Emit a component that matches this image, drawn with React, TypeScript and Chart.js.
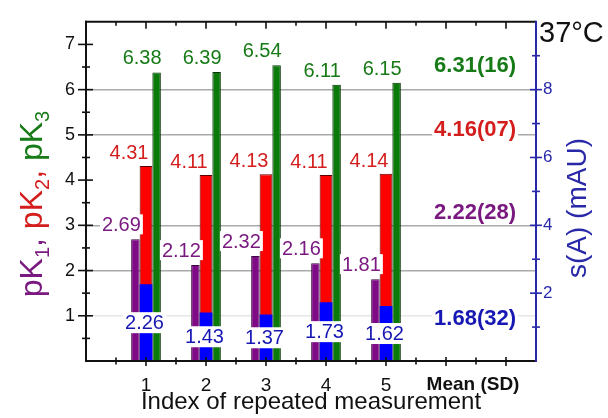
import React, { useEffect, useRef } from "react";
import { Chart, registerables } from "chart.js";

Chart.register(...registerables);

// Repeated measurements at 37 °C
const categories = [1, 2, 3, 4, 5];
const pK1 = [2.69, 2.12, 2.32, 2.16, 1.81];
const pK2 = [4.31, 4.11, 4.13, 4.11, 4.14];
const pK3 = [6.38, 6.39, 6.54, 6.11, 6.15];
const sA = [2.26, 1.43, 1.37, 1.73, 1.62];

// Mean and standard deviation, in the order pK1, pK2, pK3, s(A)
const meanValues = [2.22, 4.16, 6.31, 1.68];
const sdValues = [0.28, 0.07, 0.16, 0.32];

const leftTickLabels = [1, 2, 3, 4, 5, 6, 7];
const rightTickLabels = [2, 4, 6, 8];
const xTickLabels = [1, 2, 3, 4, 5];

const FONT = "'Liberation Sans', Arial, Helvetica, sans-serif";
const PURPLE = "#7f0a86";
const RED = "#ff0000";
const BLUE = "#0000ff";
const GREEN = "#0b7a0b";
const PURPLE_TXT = "#7a1a80";
const RED_TXT = "#d41e1e";
const GREEN_TXT = "#167a16";
const BLUE_TXT = "#1717b4";
const AXIS_BLUE = "#2828a8";

const fmtSd = (sd: number) => String(Math.round(sd * 100)).padStart(2, "0");

const decorations = {
  id: "decorations",
  afterDatasetsDraw(chart: any) {
    const { ctx, chartArea: a, scales } = chart;
    const xs = scales.x;
    const ys = scales.y;
    const y2s = scales.y2;
    ctx.save();

    // white-boxed text helper
    const boxed = (text: string, cx: number, cy: number, color: string, font: string, h: number, align = "center") => {
      ctx.font = font;
      const w = ctx.measureText(text).width + 4;
      const left = align === "right" ? cx - w + 2 : cx - w / 2;
      ctx.fillStyle = "#ffffff";
      ctx.fillRect(left, cy - h / 2, w, h);
      ctx.fillStyle = color;
      ctx.textAlign = align;
      ctx.textBaseline = "middle";
      ctx.fillText(text, cx, cy + 1);
    };

    // value labels above pK bars
    const valueFont = `20px ${FONT}`;
    const specs = [
      { ds: 0, vals: pK1, color: PURPLE_TXT, dx: -14, dy: -15 },
      { ds: 2, vals: pK2, color: RED_TXT, dx: -17, dy: -13.5 },
      { ds: 3, vals: pK3, color: GREEN_TXT, dx: -14.5, dy: -14.5 },
    ];
    specs.forEach((s) => {
      const meta = chart.getDatasetMeta(s.ds);
      meta.data.forEach((bar: any, i: number) => {
        boxed(s.vals[i].toFixed(2), bar.x + s.dx, bar.y + s.dy, s.color, valueFont, 20);
      });
    });
    // s(A) labels in the middle of the blue bars
    chart.getDatasetMeta(1).data.forEach((bar: any, i: number) => {
      boxed(sA[i].toFixed(2), bar.x - 1.5, (bar.y + bar.base) / 2, BLUE_TXT, valueFont, 21);
    });

    // mean (SD) column
    const meanFont = `bold 22px ${FONT}`;
    const meanColors = [PURPLE_TXT, RED_TXT, GREEN_TXT, BLUE_TXT];
    const meanLevels = [3.3, 5.13, 6.54, 0.96];
    const meanRight = xs.getPixelForValue(7) + 10;
    meanValues.forEach((m, i) => {
      boxed(`${m.toFixed(2)}(${fmtSd(sdValues[i])})`, meanRight, ys.getPixelForValue(meanLevels[i]), meanColors[i], meanFont, 22, "right");
    });

    // frame and tick marks
    const line = (x1: number, y1: number, x2: number, y2: number) => {
      ctx.beginPath();
      ctx.moveTo(x1, y1);
      ctx.lineTo(x2, y2);
      ctx.stroke();
    };
    ctx.lineCap = "butt";
    ctx.strokeStyle = "#111";
    ctx.lineWidth = 1.6;
    for (let v = 0.5; v < 7.5; v += 0.5) {
      const px = xs.getPixelForValue(v);
      const major = Number.isInteger(v);
      line(px, a.bottom - (major ? 4 : 3.5), px, a.bottom + (major ? 5 : 3.5));
      line(px, a.top, px, a.top + (major ? 7 : 4));
    }
    for (let v = 0.5; v <= 7; v += 0.5) {
      const py = ys.getPixelForValue(v);
      const major = Number.isInteger(v);
      line(a.left - (major ? 8 : 4), py, a.left + (major ? 7 : 4), py);
    }
    ctx.lineWidth = 2;
    line(a.left, a.top - 1, a.left, a.bottom + 1);
    line(a.left - 1, a.top, a.right, a.top);
    line(a.left - 1, a.bottom, a.right, a.bottom);

    ctx.strokeStyle = AXIS_BLUE;
    ctx.lineWidth = 1.6;
    for (let v = 1; v <= 9; v += 1) {
      const py = y2s.getPixelForValue(v);
      const major = v % 2 === 0;
      line(a.right - (major ? 6 : 4), py, a.right + (major ? 6 : 4), py);
    }
    ctx.lineWidth = 2;
    line(a.right, a.top - 1, a.right, a.bottom + 1);

    // axis titles and annotations
    ctx.textAlign = "left";
    ctx.textBaseline = "alphabetic";

    // left title: pK1, pK2, pK3 with subscripts
    const big = `32px ${FONT}`;
    const small = `20px ${FONT}`;
    const parts = [
      { t: "pK", f: big, c: PURPLE_TXT, sub: false },
      { t: "1", f: small, c: PURPLE_TXT, sub: true },
      { t: ", ", f: big, c: PURPLE_TXT, sub: false },
      { t: "pK", f: big, c: RED_TXT, sub: false },
      { t: "2", f: small, c: RED_TXT, sub: true },
      { t: ", ", f: big, c: RED_TXT, sub: false },
      { t: "pK", f: big, c: GREEN_TXT, sub: false },
      { t: "3", f: small, c: GREEN_TXT, sub: true },
    ];
    let total = 0;
    parts.forEach((p) => {
      ctx.font = p.f;
      total += ctx.measureText(p.t).width;
    });
    ctx.save();
    ctx.translate(42, 204);
    ctx.rotate(-Math.PI / 2);
    let cx = -total / 2;
    parts.forEach((p) => {
      ctx.font = p.f;
      ctx.fillStyle = p.c;
      ctx.fillText(p.t, cx, p.sub ? 7 : 0);
      cx += ctx.measureText(p.t).width;
    });
    ctx.restore();

    // right title
    ctx.save();
    ctx.translate(586, 208);
    ctx.rotate(-Math.PI / 2);
    ctx.font = `28px ${FONT}`;
    ctx.fillStyle = AXIS_BLUE;
    ctx.textAlign = "center";
    ctx.fillText("s(A) (mAU)", 0, 0);
    ctx.restore();

    // x title
    ctx.font = `24px ${FONT}`;
    ctx.fillStyle = "#111";
    ctx.textAlign = "center";
    ctx.fillText("Index of repeated measurement", (a.left + a.right) / 2, 409);

    ctx.font = `bold 19px ${FONT}`;
    ctx.fillText("Mean (SD)", 473, 390);

    ctx.font = `29px ${FONT}`;
    ctx.textAlign = "left";
    ctx.fillText("37°C", 539, 42);

    ctx.restore();
  },
};

const pts = (vals: number[]) => categories.map((c, i) => ({ x: c, y: vals[i] }));

export default function App() {
  const ref = useRef<HTMLCanvasElement>(null);

  useEffect(() => {
    const canvas = ref.current;
    if (!canvas) return;
    const barCommon = { categoryPercentage: 0.53, borderSkipped: "start" as const };
    const chart = new Chart(canvas, {
      type: "bar",
      data: {
        datasets: [
          { label: "pK1", data: pts(pK1), yAxisID: "y", stack: "p", backgroundColor: PURPLE, borderColor: "#3c0040", borderWidth: 1, barPercentage: 0.8, ...barCommon },
          { label: "s(A)", data: pts(sA), yAxisID: "y2", stack: "rb", backgroundColor: BLUE, borderColor: "#00006a", borderWidth: 0, barPercentage: 1.2, ...barCommon },
          { label: "pK2", data: pts(pK2), yAxisID: "y", stack: "rb", backgroundColor: RED, borderColor: "#5a0000", borderWidth: 1, barPercentage: 1.2, ...barCommon },
          { label: "pK3", data: pts(pK3), yAxisID: "y", stack: "g", backgroundColor: GREEN, borderColor: "#023002", borderWidth: 1, barPercentage: 0.8, ...barCommon },
        ] as any,
      },
      options: {
        responsive: false,
        animation: false,
        devicePixelRatio: 1,
        layout: { padding: { top: 14, left: 0, right: 0, bottom: 0 } },
        plugins: { legend: { display: false }, tooltip: { enabled: false } },
        scales: {
          x: {
            type: "linear",
            position: "bottom",
            min: 0,
            max: 7.5,
            offset: false,
            grid: { display: false, drawTicks: false, offset: false },
            border: { display: false },
            ticks: {
              stepSize: 1,
              includeBounds: false,
              padding: 13,
              maxRotation: 0,
              autoSkip: false,
              color: "#111",
              font: { family: FONT, size: 19 },
              callback: (v: any) => (xTickLabels.includes(Number(v)) ? String(v) : ""),
            },
            afterFit: (s: any) => {
              s.height = 57;
            },
          },
          y: {
            type: "linear",
            position: "left",
            min: 0,
            max: 7.5,
            grid: {
              drawTicks: false,
              lineWidth: 1.5,
              color: (c: any) => {
                const v = c.tick ? c.tick.value : -1;
                if (v === 1) return "#e6e6e6";
                if (v === 2 || v === 3 || v === 5 || v === 6) return "#a9a9a9";
                return "rgba(0,0,0,0)";
              },
            },
            border: { display: false },
            ticks: {
              stepSize: 1,
              includeBounds: false,
              padding: 11,
              color: "#111",
              font: { family: FONT, size: 18 },
              callback: (v: any) => (leftTickLabels.includes(Number(v)) ? String(v) : ""),
            },
            afterFit: (s: any) => {
              s.width = 86;
            },
          },
          y2: {
            type: "linear",
            position: "right",
            min: 0,
            max: 10,
            grid: { display: false, drawTicks: false },
            border: { display: false },
            ticks: {
              stepSize: 2,
              includeBounds: false,
              padding: 7,
              color: AXIS_BLUE,
              font: { family: FONT, size: 17 },
              callback: (v: any) => (rightTickLabels.includes(Number(v)) ? String(v) : ""),
            },
            afterFit: (s: any) => {
              s.width = 72;
            },
          },
        },
      } as any,
      plugins: [decorations],
    });
    return () => chart.destroy();
  }, []);

  return (
    <div style={{ position: "fixed", left: 0, top: 0, width: 608, height: 418, background: "#ffffff" }}>
      <canvas ref={ref} width={608} height={418} style={{ display: "block" }} />
    </div>
  );
}
